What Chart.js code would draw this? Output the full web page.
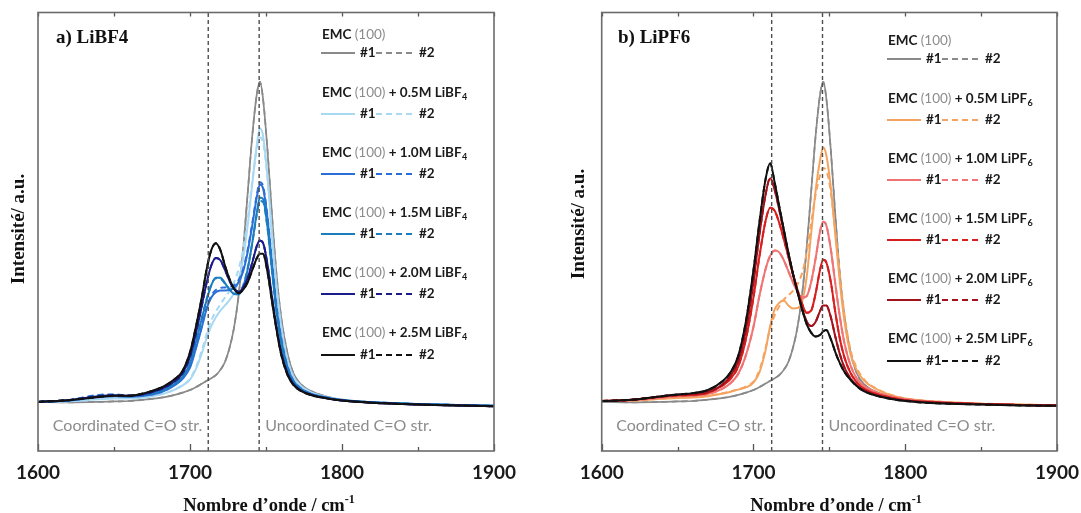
<!DOCTYPE html>
<html>
<head>
<meta charset="utf-8">
<title>Spectres C=O - LiBF4 / LiPF6</title>
<script src="https://cdn.jsdelivr.net/npm/chart.js"></script>
<style>
  body { margin: 0; background: #fff; }
  .panel { position: absolute; top: 0; height: 513px; }
  #panelA { left: 0; width: 540px; }
  #panelB { left: 540px; width: 541px; }
</style>
<script>
// wavenumbers shared by every spectrum (cm-1)
const wavenumber = [1600, 1620, 1640, 1650, 1660, 1670, 1680, 1685, 1690, 1695, 1700, 1704, 1708, 1711, 1714, 1717, 1720, 1723, 1726, 1729, 1732, 1735, 1738, 1741, 1744, 1746, 1748, 1751, 1754, 1757, 1760, 1764, 1768, 1773, 1780, 1790, 1800, 1820, 1850, 1875, 1900];

const xTicks = [1600, 1650, 1700, 1750, 1800, 1850, 1900];
const xTickLabels = ['1600', '', '1700', '', '1800', '', '1900'];
const bandLines = [1712, 1745.5];   // coordinated / uncoordinated C=O

// pure solvent, same in both panels
const emc = [11.2, 11.1, 11.2, 11.3, 11.4, 11.7, 12.1, 12.4, 12.8, 13.3, 13.9, 14.6, 15.4, 16.0, 16.6, 17.3, 18.5, 20.3, 23.5, 28.2, 35.5, 46.0, 59.0, 72.0, 81.5, 84.2, 80.5, 68.5, 53.5, 40.0, 30.5, 22.5, 17.8, 15.2, 13.6, 12.4, 11.7, 11.1, 10.7, 10.5, 10.3];

// a) LiBF4
const bf4_05 = [11.2, 11.3, 11.8, 12.0, 12.0, 12.2, 12.8, 13.3, 14.0, 14.9, 16.3, 18.8, 22.5, 25.8, 28.5, 30.5, 32.0, 33.2, 34.4, 36.0, 39.0, 44.0, 51.5, 61.0, 70.0, 73.6, 72.0, 62.5, 49.0, 37.0, 28.5, 21.0, 17.0, 14.8, 13.3, 12.3, 11.7, 11.1, 10.7, 10.5, 10.3];
const bf4_05b = [11.2, 11.4, 12.0, 12.2, 12.1, 12.3, 12.9, 13.4, 14.1, 15.0, 16.5, 19.2, 23.2, 26.8, 29.8, 31.8, 33.5, 35.0, 36.5, 38.5, 41.5, 46.0, 53.0, 61.5, 69.0, 71.5, 70.5, 62.0, 49.0, 37.0, 28.5, 21.0, 17.0, 14.8, 13.3, 12.3, 11.7, 11.1, 10.7, 10.5, 10.3];
const bf4_10 = [11.2, 11.5, 12.3, 12.5, 12.4, 12.6, 13.3, 14.0, 15.0, 16.4, 19.0, 23.5, 28.5, 32.5, 35.0, 36.2, 36.6, 36.6, 36.7, 37.2, 38.5, 41.0, 45.5, 51.5, 58.0, 60.8, 60.0, 53.0, 42.5, 32.5, 25.5, 19.3, 16.0, 14.2, 13.0, 12.2, 11.6, 11.1, 10.7, 10.5, 10.3];
const bf4_10b = [11.2, 11.6, 12.8, 12.9, 12.6, 12.7, 13.4, 14.1, 15.1, 16.6, 19.3, 23.8, 28.8, 32.8, 35.4, 36.7, 37.2, 37.3, 37.4, 37.8, 39.0, 41.5, 46.0, 52.0, 58.5, 61.3, 60.5, 53.5, 43.0, 33.0, 25.8, 19.5, 16.1, 14.3, 13.0, 12.2, 11.6, 11.1, 10.7, 10.5, 10.3];
const bf4_15 = [11.2, 11.5, 12.4, 12.6, 12.5, 12.8, 13.6, 14.3, 15.3, 16.8, 20.0, 25.0, 30.5, 34.5, 37.8, 39.5, 39.5, 38.3, 36.8, 35.8, 35.7, 37.5, 41.5, 47.5, 54.5, 57.8, 57.5, 51.0, 41.0, 31.5, 24.8, 18.9, 15.8, 14.1, 12.9, 12.1, 11.6, 11.1, 10.7, 10.5, 10.3];
const bf4_15b = [11.2, 11.6, 12.7, 12.8, 12.6, 12.9, 13.7, 14.4, 15.4, 16.9, 20.1, 25.2, 30.7, 34.7, 37.9, 39.4, 39.3, 38.2, 36.9, 36.0, 36.0, 37.8, 41.8, 47.5, 54.0, 57.0, 56.8, 50.8, 41.0, 31.6, 24.9, 19.0, 15.9, 14.1, 12.9, 12.1, 11.6, 11.1, 10.7, 10.5, 10.3];
const bf4_20 = [11.2, 11.6, 12.5, 12.7, 12.6, 13.0, 14.0, 14.8, 15.9, 17.6, 21.5, 27.0, 33.5, 38.5, 42.3, 44.0, 43.5, 41.3, 38.8, 37.0, 36.3, 37.3, 39.5, 43.0, 46.8, 48.0, 47.5, 42.5, 35.0, 28.0, 22.5, 17.8, 15.3, 13.8, 12.8, 12.0, 11.5, 11.0, 10.6, 10.4, 10.2];
const bf4_25 = [11.2, 11.6, 12.3, 12.6, 12.6, 13.2, 14.3, 15.2, 16.4, 18.2, 22.5, 28.5, 35.5, 41.5, 45.8, 47.4, 45.8, 42.3, 39.2, 37.0, 36.0, 36.8, 38.5, 41.3, 44.0, 45.0, 45.0, 40.8, 34.0, 27.5, 22.0, 17.5, 15.1, 13.7, 12.7, 12.0, 11.5, 11.0, 10.6, 10.4, 10.2];

// b) LiPF6
const pf6_05 = [11.4, 11.5, 11.9, 12.1, 12.2, 12.5, 13.1, 13.5, 14.0, 14.5, 15.6, 18.0, 23.0, 28.5, 32.3, 33.8, 34.3, 33.2, 32.5, 32.6, 34.0, 39.5, 49.5, 59.5, 66.5, 69.2, 67.5, 60.0, 49.0, 38.3, 29.5, 22.0, 18.5, 16.0, 14.3, 12.8, 12.0, 11.3, 10.8, 10.6, 10.4];
const pf6_05b = [11.4, 11.5, 12.0, 12.2, 12.3, 12.6, 13.2, 13.6, 14.1, 14.7, 15.8, 18.5, 23.5, 28.0, 31.0, 33.0, 34.5, 35.5, 36.5, 38.0, 40.5, 45.0, 52.0, 58.5, 63.0, 64.5, 64.0, 59.0, 50.0, 40.0, 31.0, 23.0, 19.0, 16.3, 14.4, 12.9, 12.0, 11.3, 10.8, 10.6, 10.4];
const pf6_10 = [11.4, 11.6, 12.2, 12.5, 12.6, 13.0, 14.3, 15.5, 17.6, 21.8, 28.3, 35.5, 41.5, 44.5, 45.7, 45.3, 43.5, 41.0, 38.5, 36.3, 35.0, 35.3, 38.5, 44.0, 50.3, 52.3, 51.5, 46.0, 38.0, 30.5, 24.5, 19.5, 16.6, 14.8, 13.5, 12.5, 11.8, 11.2, 10.7, 10.5, 10.4];
const pf6_15 = [11.4, 11.7, 12.4, 12.7, 12.8, 13.3, 15.0, 16.5, 19.3, 25.5, 35.0, 44.5, 52.5, 55.5, 54.8, 52.0, 48.3, 44.3, 40.3, 36.8, 33.6, 31.5, 32.0, 36.0, 41.5, 43.6, 43.0, 38.5, 31.5, 25.5, 21.3, 17.8, 15.7, 14.2, 13.1, 12.2, 11.6, 11.1, 10.7, 10.5, 10.4];
const pf6_20 = [11.4, 11.7, 12.5, 12.8, 13.0, 13.5, 15.3, 17.2, 20.5, 27.5, 38.5, 49.5, 58.5, 62.2, 59.5, 55.0, 50.0, 45.0, 40.5, 36.4, 32.5, 29.6, 28.5, 29.5, 32.0, 33.2, 33.2, 30.5, 26.0, 22.0, 19.0, 16.5, 15.0, 13.8, 12.8, 12.0, 11.5, 11.0, 10.7, 10.5, 10.4];
const pf6_25 = [11.4, 11.7, 12.5, 12.9, 13.2, 13.9, 16.0, 18.0, 21.7, 29.5, 41.2, 52.3, 62.0, 65.6, 61.2, 55.8, 50.5, 45.2, 40.5, 36.3, 32.4, 29.0, 27.0, 26.1, 26.5, 27.3, 27.6, 25.5, 22.5, 20.0, 18.0, 16.2, 14.8, 13.6, 12.7, 11.9, 11.4, 10.9, 10.6, 10.4, 10.3];

const concentrations = ['', '0.5M', '1.0M', '1.5M', '2.0M', '2.5M'];
const colorsBF4 = ['#8a8a8a', '#a9d8f2', '#2a6fd8', '#1c7dbe', '#1b1b8c', '#111111'];
const colorsPF6 = ['#8a8a8a', '#f5a45f', '#f07474', '#d81f1f', '#a2121c', '#111111'];

const panels = [
    { id: 'chartA', title: 'a) LiBF4', salt: 'LiBF', sub: '4', colors: colorsBF4,
      run1: [emc, bf4_05, bf4_10, bf4_15, bf4_20, bf4_25],
      run2: [emc, bf4_05b, bf4_10b, bf4_15b, bf4_20, bf4_25],
      padLeft: 38, padRight: 46, legendX: 322, legendDy: 0, titleX: 56, yTitleX: 19, yTitleY: 229, xTitleX: 269 },
    { id: 'chartB', title: 'b) LiPF6', salt: 'LiPF', sub: '6', colors: colorsPF6,
      run1: [emc, pf6_05, pf6_10, pf6_15, pf6_20, pf6_25],
      run2: [emc, pf6_05b, pf6_10, pf6_15, pf6_20, pf6_25],
      padLeft: 61.7, padRight: 23.7, legendX: 348, legendDy: 6, titleX: 78, yTitleX: 39, yTitleY: 224, xTitleX: 296 }
];

const legendTitleY = [35, 93, 153, 213, 273, 333];
const legendRowY = [53, 114, 174, 234, 294, 355];

function toPoints(arr) {
    return wavenumber.map((x, i) => ({ x: x, y: arr[i] }));
}

const decor = {
    id: 'decor',
    afterDatasetsDraw(chart) {
        const p = chart.options.plugins.decor.panel;
        const ctx = chart.ctx, a = chart.chartArea;
        const xs = chart.scales.x, ys = chart.scales.y;
        ctx.save();

        // inward tick marks
        ctx.strokeStyle = '#555';
        ctx.lineWidth = 1.3;
        xTicks.forEach((v, i) => {
            const px = Math.round(xs.getPixelForValue(v)) + 0.5;
            const len = xTickLabels[i] ? 7 : 4;
            ctx.beginPath();
            ctx.moveTo(px, a.bottom); ctx.lineTo(px, a.bottom - len);
            ctx.moveTo(px, a.top); ctx.lineTo(px, a.top + 4);
            ctx.stroke();
        });

        // frame
        ctx.strokeStyle = '#6b6b6b';
        ctx.lineWidth = 1.6;
        ctx.strokeRect(a.left, a.top, a.right - a.left, a.bottom - a.top);

        // band labels
        ctx.font = '16px Lato';
        ctx.fillStyle = '#8c8c8c';
        ctx.textBaseline = 'middle';
        const ly = ys.getPixelForValue(5.7);
        ctx.textAlign = 'right';
        ctx.fillText('Coordinated C=O str.', xs.getPixelForValue(bandLines[0]) - 6, ly);
        ctx.textAlign = 'left';
        ctx.fillText('Uncoordinated C=O str.', xs.getPixelForValue(bandLines[1]) + 6, ly);

        // panel title
        ctx.font = 'bold 19px "Liberation Serif"';
        ctx.fillStyle = '#111';
        ctx.fillText(p.title, p.titleX, 38);

        // legend
        concentrations.forEach((c, i) => {
            const ty = legendTitleY[i] + p.legendDy, ry = legendRowY[i] + p.legendDy;
            let x = p.legendX;
            ctx.textAlign = 'left';
            ctx.font = 'bold 13.5px Lato';
            ctx.fillStyle = '#1a1a1a';
            ctx.fillText('EMC', x, ty);
            x += ctx.measureText('EMC ').width;
            ctx.font = '13.5px Lato';
            ctx.fillStyle = '#8c8c8c';
            ctx.fillText('(100)', x, ty);
            x += ctx.measureText('(100)').width;
            if (c) {
                ctx.font = 'bold 13.5px Lato';
                ctx.fillStyle = '#1a1a1a';
                const s = ' + ' + c + ' ' + p.salt;
                ctx.fillText(s, x, ty);
                x += ctx.measureText(s).width;
                ctx.font = 'bold 9px Lato';
                ctx.fillText(p.sub, x + 0.5, ty + 4);
            }
            const col = p.colors[i];
            ctx.strokeStyle = col;
            ctx.lineWidth = 2;
            ctx.setLineDash([]);
            ctx.beginPath(); ctx.moveTo(p.legendX - 1, ry); ctx.lineTo(p.legendX + 33, ry); ctx.stroke();
            ctx.setLineDash([6, 4]);
            ctx.beginPath(); ctx.moveTo(p.legendX + 54, ry); ctx.lineTo(p.legendX + 93, ry); ctx.stroke();
            ctx.setLineDash([]);
            ctx.font = 'bold 13.5px Lato';
            ctx.fillStyle = '#1a1a1a';
            ctx.fillText('#1', p.legendX + 38, ry);
            ctx.fillText('#2', p.legendX + 97, ry);
        });

        // axis titles
        ctx.fillStyle = '#111';
        const main = 'Nombre d\u2019onde / cm';
        ctx.font = 'bold 18.5px "Liberation Serif"';
        const w1 = ctx.measureText(main).width;
        ctx.font = 'bold 12px "Liberation Serif"';
        const w2 = ctx.measureText('-1').width;
        let tx = p.xTitleX - (w1 + w2) / 2;
        ctx.textBaseline = 'alphabetic';
        ctx.font = 'bold 18.5px "Liberation Serif"';
        ctx.fillText(main, tx, 511);
        ctx.font = 'bold 12px "Liberation Serif"';
        ctx.fillText('-1', tx + w1, 503);

        ctx.translate(p.yTitleX, p.yTitleY);
        ctx.rotate(-Math.PI / 2);
        ctx.textAlign = 'center';
        ctx.textBaseline = 'middle';
        ctx.font = 'bold 19px "Liberation Serif"';
        ctx.fillText('Intensit\u00e9/ a.u.', 0, 0);
        ctx.restore();
    }
};

function makeChart(p) {
    const datasets = [];
    bandLines.forEach(v => {
        datasets.push({
            data: [{ x: v, y: 0 }, { x: v, y: 100 }],
            borderColor: '#4d4d4d', borderWidth: 1.4, borderDash: [4, 3],
            pointRadius: 0, order: 0
        });
    });
    for (let i = 0; i < concentrations.length; i++) {
        const base = (concentrations.length - i) * 2 - 1;
        const w = i === 0 ? 1.7 : 2;
        datasets.push({
            label: concentrations[i] + ' #1', data: toPoints(p.run1[i]),
            borderColor: p.colors[i], borderWidth: w, pointRadius: 0,
            cubicInterpolationMode: 'monotone', order: base
        });
        datasets.push({
            label: concentrations[i] + ' #2', data: toPoints(p.run2[i]),
            borderColor: p.colors[i], borderWidth: w, borderDash: [6, 4], pointRadius: 0,
            cubicInterpolationMode: 'monotone', order: base + 1
        });
    }

    new Chart(document.getElementById(p.id), {
        type: 'line',
        data: { datasets: datasets },
        plugins: [decor],
        options: {
            responsive: true,
            maintainAspectRatio: false,
            animation: false,
            devicePixelRatio: 1,
            layout: { padding: { left: p.padLeft, right: p.padRight, top: 12.5, bottom: 0 } },
            plugins: { legend: { display: false }, tooltip: { enabled: false }, decor: { panel: p } },
            scales: {
                x: {
                    type: 'linear', min: 1600, max: 1900,
                    afterBuildTicks: axis => { axis.ticks = xTicks.map(v => ({ value: v })); },
                    afterFit: axis => { axis.height = 62; },
                    ticks: {
                        autoSkip: false, maxRotation: 0, padding: 2,
                        color: '#1a1a1a', font: { family: 'Lato', weight: 'bold', size: 19 },
                        callback: (v, i) => xTickLabels[i]
                    },
                    grid: { display: false },
                    border: { display: false }
                },
                y: { display: false, min: 0, max: 100 }
            }
        }
    });
}

window.onload = function() {
    Promise.all([
        document.fonts.load('bold 13px Lato'),
        document.fonts.load('13px Lato'),
        document.fonts.load('bold 19px "Liberation Serif"')
    ]).catch(() => {}).then(() => panels.forEach(makeChart));
};
</script>
</head>
<body>
  <div id="panelA" class="panel"><canvas id="chartA"></canvas></div>
  <div id="panelB" class="panel"><canvas id="chartB"></canvas></div>
</body>
</html>
